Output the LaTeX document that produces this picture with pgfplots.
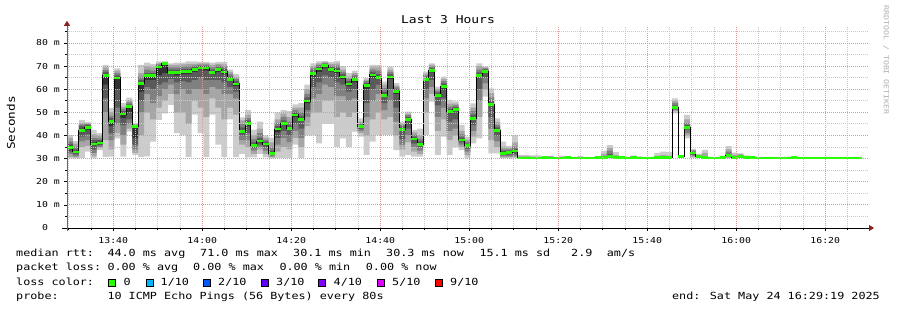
\documentclass[border=0pt]{standalone}
\usepackage{pgfplots}
\pgfplotsset{compat=1.18}
\usepackage{pgfplotstable}
\usepgfplotslibrary{fillbetween}
\usetikzlibrary{arrows.meta}
\usepackage{fontspec}
\setmainfont{DejaVu Sans Mono}[FakeStretch=1.2]
\definecolor{sA}{RGB}{204,204,204}
\definecolor{sB}{RGB}{166,166,166}
\definecolor{sC}{RGB}{128,128,128}
\definecolor{sD}{RGB}{90,90,90}
\definecolor{sE}{RGB}{50,50,50}
\definecolor{lgreen}{RGB}{38,255,0}
\definecolor{mred}{RGB}{228,150,150}
\definecolor{mgray}{RGB}{200,200,200}
\definecolor{ared}{RGB}{140,30,30}
\definecolor{wgray}{RGB}{175,175,175}
\definecolor{c1}{RGB}{0,184,255}
\definecolor{c2}{RGB}{0,89,255}
\definecolor{c3}{RGB}{94,0,255}
\definecolor{c4}{RGB}{126,0,255}
\definecolor{c5}{RGB}{221,0,255}
\definecolor{c9}{RGB}{255,0,0}
\newcommand\lfont{\fontsize{9.8}{11}\selectfont}

\pgfplotstableread{
x med a b c d e f g h i j
0 34.9 30.1 30.8 32 33 34 35.5 36.5 37.5 39 40.2
1 32.9 30.0 30.5 31 31.8 32.5 33.3 34 35 36.5 37.6
2 42.2 30.2 35 37.5 39.5 41.5 43 44 44.8 45.5 46.7
3 43.4 33 35.5 38 40.5 42.5 44 44.6 45 45.4 45.8
4 36.3 30.1 31 32.5 34 35.8 36.8 38 39 40.5 42.4
5 36.8 33.7 34.5 35 35.8 36.4 37.2 38 38.8 39.8 41
6 66.0 30.8 38 50 56 62 66.5 67.5 68.3 69.5 70.5
7 46.1 30.9 34 38 41 44 46.5 47.5 48.5 50 51.8
8 64.9 38.8 41 45 52 60 65.3 66 67 68 69
9 49.3 30.9 36 40 44.5 47.5 49.6 50.5 51.5 52.5 54
10 52.5 41.7 43 45 47 50 52.8 53.5 54.3 55.3 56.4
11 43.8 31.6 32.5 34 36 39 44 44.2 44.5 44.9 45.3
12 62.4 30.8 40 50 55 59 63 64 65.5 67 70.5
13 65.9 31 50 58 61 64 66.3 67 68.5 70 71.5
14 65.9 37.4 47 54 60 64 66.3 67 68 69.5 71
15 69.6 46.7 52 57 62 66 69.8 70.3 70.8 71.3 72
16 71.1 49.6 55 60 63 67 71.2 71.4 71.6 71.8 72
17 67.2 53.2 58 62 64.5 66.5 67.4 68.5 69.5 70.5 71.2
18 67.2 41 50 58 63 66 67.4 68.5 69.5 70.5 71.5
19 67.6 40.2 50 60 63.5 66.5 67.8 68.8 69.8 70.8 71.5
20 67.6 30.8 45 58 63 66.5 67.8 68.8 70 71 72
21 68.6 49 55 60 64 67.5 68.8 69.6 70.3 71 72
22 69.2 41 52 60 65 68.5 69.4 70 70.6 71.2 71.8
23 69.2 30.8 48 58 64 68 69.4 70 70.6 71.2 71.8
24 67.2 49 56 61 64 66.5 67.4 68.5 69.5 70.5 71.5
25 68.5 36 52 60 64 67.5 68.7 69.5 70.3 71 71.8
26 67.5 30.8 47 58 63 66.5 67.7 68.7 69.8 70.8 71.8
27 64.3 47 52 58 61 63.5 64.5 65.5 66.5 67.5 68.5
28 62.3 30.8 49 56 59 61.5 62.5 63.5 64.5 65.5 66.5
29 41.8 32 36 38 40 41.3 42 43.5 45 46.5 47.8
30 45.3 30.5 35 38 41 44 45.6 46.5 47.5 49 51
31 35.6 30.5 32 33.5 34.5 35.2 35.9 37 38.5 40 42.5
32 37.6 32 34 35 36 37 37.8 39 41 43 46
33 36.3 30.5 32 33.5 35 35.9 36.6 37.3 38 39 40
34 32.2 30 30.5 31 31.5 32 32.5 33.5 35 37 39
35 42.8 30.2 33 36 39 41.5 43 44 45.5 47 50
36 45.3 30.2 35 39 42 44.5 45.6 46.5 48 49.5 51
37 43.1 30.2 34 37 40 42.5 43.4 44.5 46 48 50.5
38 48.9 36 39 42 45 48 49.2 50 51 52 53.5
39 47.0 30.2 35 39 43 46.3 47.3 48.5 50 52 54
40 54.9 40 44 48 51 54 55.3 56.5 58 60 62
41 66.9 40 50 56 61 65.5 67.2 68 69 70 71.2
42 68.8 36.6 50 58 63 67.5 69 69.8 70.5 71.2 72
43 70.2 45 55 62 66 69.3 70.4 70.9 71.3 71.7 72.2
44 68.5 45 55 61 65 67.7 68.8 69.5 70.2 71 71.8
45 67.8 35 48 57 63 67 68.2 69.2 70.2 71.2 72.3
46 65.3 38.8 50 57 62 64.5 65.6 66.5 67.5 68.5 70
47 62.3 35 48 55 59 61.5 62.5 63.5 64.5 65.5 67
48 64.2 41.7 50 56 60 63 64.5 65.3 66.2 67 68
49 43.8 39.5 41 42 42.8 43.4 44 44.6 45.2 46 47.4
50 61.7 31.6 40 48 54 60 62 62.8 63.5 64 64.8
51 66.2 37.3 47 55 60 65 66.5 67.5 68.5 69.5 70.5
52 65.2 40 50 58 62 64.5 65.5 66.5 68 69.5 70.5
53 57.4 40.2 47 51 54 56.8 57.7 59 60.5 62 63.3
54 65.3 40.2 48 55 60 64.5 65.6 66.5 67.5 68.5 69.8
55 59.0 33.7 40 46 52 58 59.3 60 60.8 61.6 62.6
56 42.7 30.9 34 36 38.5 42 43 43.8 44.5 45.2 46
57 47.0 31.6 37 40 43 46.5 47.3 48 48.8 49.5 50.3
58 38.5 30.9 33 35 36.5 38 38.8 39.5 40.3 41.3 42.4
59 36.2 30.9 32 33.5 35 35.8 36.5 37.5 38.5 40 43
60 64.2 40.2 50 56 60 63.5 64.5 65.3 66 66.8 67.6
61 68.0 54.6 58 61 64 67.3 68.3 69 69.8 70.5 71.2
62 57.4 31.6 42 48 53 56.8 57.8 58.5 59.3 60.2 61.1
63 61.1 39.5 47 52 56 60.3 61.5 62.5 63.5 64.5 65.4
64 50.3 31.6 38 42 46 49.6 50.7 51.5 52.5 53.8 55.4
65 51.3 35 40 43 47 50.7 51.7 52.3 53 53.8 54.7
66 38.1 33.7 35 36 37 37.7 38.4 39.2 40.5 42 44.6
67 35.6 30.1 31.5 33 34.3 35.2 35.9 36.5 37.3 38.2 39.5
68 47.4 36.6 39.5 42 44.5 47 47.8 49 50.5 52 53.9
69 65.9 38.8 48 55 60 65.3 66.2 67.3 68.5 70 71.2
70 67.6 56.8 60 62.5 65 67.2 68 68.6 69 69.4 69.8
71 53.3 32.3 38 43 48 52.8 53.8 55 56.5 58.3 60.4
72 42.2 32.3 35 37.5 40 41.8 42.6 43.5 44.5 45.8 47.4
73 32.2 30.1 30.5 31 31.5 32 32.5 33.2 34 35.2 37.3
74 32.7 30.1 30.5 31 31.7 32.4 33 33.5 34 34.7 35.5
75 33.3 30.1 30.6 31.2 32 33 33.6 34.2 35.2 37 40.2
76 30.3 30.0 30.1 30.15 30.2 30.25 30.35 30.5 30.7 31 31.6
77 30.3 30.0 30.1 30.15 30.2 30.25 30.35 30.5 30.7 31 31.6
78 30.3 30.0 30.05 30.1 30.15 30.25 30.35 30.4 30.5 30.9 31.4
79 30.2 30.0 30.05 30.1 30.15 30.15 30.25 30.3 30.4 30.8 31.4
80 30.4 30.0 30.05 30.1 30.15 30.35 30.45 30.5 30.55 30.65 30.9
81 30.3 30.0 30.05 30.1 30.15 30.25 30.35 30.6 30.8 31.0 31.2
82 30.2 30.0 30.05 30.1 30.15 30.15 30.25 30.3 30.35 30.45 30.7
83 30.3 30.0 30.05 30.1 30.15 30.25 30.35 30.4 30.5 30.8 31.3
84 30.4 30.0 30.05 30.1 30.15 30.35 30.45 30.5 30.55 30.65 30.9
85 30.2 30.0 30.05 30.1 30.15 30.15 30.25 30.3 30.35 30.45 30.7
86 30.3 30.0 30.05 30.1 30.15 30.25 30.35 30.4 30.5 30.8 31.2
87 30.2 30.0 30.05 30.1 30.15 30.15 30.25 30.3 30.35 30.45 30.7
88 30.3 30.0 30.05 30.1 30.15 30.25 30.35 30.4 30.45 30.55 30.8
89 30.4 30.0 30.05 30.1 30.15 30.35 30.45 30.5 30.55 30.65 30.9
90 30.6 30.0 30.1 30.2 30.3 30.55 30.65 30.8 31.2 32 33.3
91 30.8 30.1 30.2 30.3 30.5 30.7 31 32 33.5 34.6 35.8
92 30.5 30.0 30.1 30.2 30.3 30.45 30.55 30.7 30.9 31.5 32.9
93 30.4 30.0 30.05 30.1 30.15 30.35 30.45 30.5 30.55 30.65 30.9
94 30.3 30.0 30.05 30.1 30.15 30.25 30.35 30.4 30.45 30.55 30.8
95 30.6 30.0 30.1 30.2 30.3 30.55 30.65 31 31.1 31.2 31.3
96 30.3 30.0 30.05 30.1 30.15 30.25 30.35 30.4 30.45 30.6 31.0
97 30.2 30.0 30.05 30.1 30.15 30.15 30.25 30.3 30.35 30.45 30.7
98 30.3 30.0 30.05 30.1 30.15 30.25 30.35 30.4 30.45 30.55 30.8
99 30.4 30.0 30.05 30.1 30.15 30.35 30.45 30.5 30.7 31.2 32.5
100 30.4 30.0 30.05 30.1 30.15 30.35 30.45 30.5 30.8 31.5 33
101 30.4 30.0 30.05 30.1 30.15 30.35 30.45 30.5 30.7 31.3 32.8
102 52.0 49.6 50.5 51 51.5 51.8 52.3 53 54 55 56.1
103 31.0 30.6 30.7 30.8 30.85 30.9 31.05 31.1 31.2 31.3 31.5
104 43.5 38.8 40 41 42.5 43.2 44 44.6 45.5 47 48.9
105 32.4 30.3 30.8 31.2 31.7 32.2 32.6 32.9 33.3 33.8 34.2
106 30.8 30.2 30.3 30.4 30.5 30.7 30.9 31.1 31.4 31.7 32.1
107 30.4 30.0 30.05 30.1 30.15 30.35 30.45 30.6 30.9 32.5 33.8
108 30.3 30.0 30.05 30.1 30.15 30.25 30.35 30.4 30.45 30.55 30.8
109 30.2 30.0 30.05 30.1 30.15 30.15 30.25 30.3 30.35 30.45 30.7
110 30.4 30.0 30.05 30.1 30.15 30.35 30.45 30.5 30.6 30.8 31.3
111 31.4 30.1 30.3 30.6 30.9 31.3 31.5 32 33 34 35.4
112 30.6 30.0 30.1 30.2 30.3 30.55 30.65 30.8 31.1 31.7 32.6
113 30.9 30.1 30.3 30.5 30.7 30.85 30.95 31.1 31.6 31.9 32.3
114 30.5 30.0 30.1 30.2 30.3 30.45 30.55 30.7 30.9 31.1 31.4
115 30.4 30.0 30.05 30.1 30.15 30.35 30.45 30.5 30.55 30.65 30.9
116 30.3 30.0 30.05 30.1 30.15 30.25 30.35 30.4 30.45 30.55 30.8
117 30.3 30.0 30.05 30.1 30.15 30.25 30.35 30.4 30.45 30.55 30.8
118 30.2 30.0 30.05 30.1 30.15 30.15 30.25 30.3 30.35 30.45 30.7
119 30.2 30.0 30.05 30.1 30.15 30.15 30.25 30.3 30.35 30.45 30.7
120 30.3 30.0 30.05 30.1 30.15 30.25 30.35 30.4 30.45 30.55 30.8
121 30.3 30.0 30.05 30.1 30.15 30.25 30.35 30.4 30.45 30.55 30.8
122 30.4 30.0 30.05 30.1 30.15 30.35 30.45 30.5 30.55 30.65 30.9
123 30.2 30.0 30.05 30.1 30.15 30.15 30.25 30.3 30.35 30.45 30.7
124 30.2 30.0 30.05 30.1 30.15 30.15 30.25 30.3 30.35 30.45 30.7
125 30.3 30.0 30.05 30.1 30.15 30.25 30.35 30.4 30.45 30.55 30.8
126 30.3 30.0 30.05 30.1 30.15 30.25 30.35 30.4 30.45 30.55 30.8
127 30.2 30.0 30.05 30.1 30.15 30.15 30.25 30.3 30.35 30.45 30.7
128 30.3 30.0 30.05 30.1 30.15 30.25 30.35 30.4 30.45 30.55 30.8
129 30.3 30.0 30.05 30.1 30.15 30.25 30.35 30.4 30.45 30.55 30.8
130 30.2 30.0 30.05 30.1 30.15 30.15 30.25 30.3 30.35 30.45 30.7
131 30.3 30.0 30.05 30.1 30.15 30.25 30.35 30.4 30.45 30.55 30.8
132 30.3 30.0 30.05 30.1 30.15 30.25 30.35 30.4 30.45 30.55 30.8
133 30.3 30.0 30.05 30.1 30.15 30.25 30.35 30.4 30.45 30.55 30.8
134 30.3 30.0 30.05 30.1 30.15 30.25 30.35 30.4 30.45 30.55 30.8
}\smoke

\begin{document}
\begin{tikzpicture}
\path (0pt,0pt) rectangle (897pt,310pt);
\begin{axis}[
  at={(67pt,82pt)}, anchor=south west,
  scale only axis, width=801pt, height=201.2pt,
  xmin=0, xmax=135, ymin=0, ymax=87,
  axis lines=left,
  axis on top,
  x axis line style={draw=black, line width=0.8pt, -{Triangle[length=5pt,width=6pt,color=ared]}, shorten >=-6pt, shorten <=-5pt},
  y axis line style={draw=black!60, line width=0.8pt, -{Triangle[length=5pt,width=6pt,color=ared]}, shorten >=-6pt, shorten <=-3pt},
  xtick={7.8,22.8,37.8,52.8,67.8,82.8,97.8,112.8,127.8},
  xticklabels={13:40,14:00,14:20,14:40,15:00,15:20,15:40,16:00,16:20},
  minor xtick={0.3,4.05,...,135},
  ytick={0,10,...,80},
  yticklabels={0\hphantom{xx},10 m,20 m,30 m,40 m,50 m,60 m,70 m,80 m},
  minor ytick={5,15,...,85},
  grid=both,
  major grid style={draw=mred, dash pattern=on 1pt off 1pt, line width=0.9pt},
  minor grid style={draw=mgray, dash pattern=on 1pt off 1pt, line width=0.9pt},
  tick align=outside,
  major tick length=3pt, minor tick length=2pt,
  tick style={black, line width=0.7pt},
  tick label style={font=\fontsize{8.2}{9}\selectfont},
  xticklabel style={anchor=base, inner sep=0pt, yshift=-13pt},
  yticklabel style={anchor=east, inner sep=0pt, xshift=-4pt},
]
\addplot[const plot, draw=none, name path=pa] table[x=x,y=a]{\smoke};
\addplot[const plot, draw=none, name path=pb] table[x=x,y=b]{\smoke};
\addplot[const plot, draw=none, name path=pc] table[x=x,y=c]{\smoke};
\addplot[const plot, draw=none, name path=pd] table[x=x,y=d]{\smoke};
\addplot[const plot, draw=none, name path=pe] table[x=x,y=e]{\smoke};
\addplot[const plot, draw=none, name path=pf] table[x=x,y=f]{\smoke};
\addplot[const plot, draw=none, name path=pg] table[x=x,y=g]{\smoke};
\addplot[const plot, draw=none, name path=ph] table[x=x,y=h]{\smoke};
\addplot[const plot, draw=none, name path=pi] table[x=x,y=i]{\smoke};
\addplot[const plot, draw=none, name path=pj] table[x=x,y=j]{\smoke};
\addplot[fill=sA, draw=none] fill between[of=pa and pj];
\addplot[fill=sB, draw=none] fill between[of=pb and pi];
\addplot[fill=sC, draw=none] fill between[of=pc and ph];
\addplot[fill=sD, draw=none] fill between[of=pd and pg];
\addplot[fill=sE, draw=none] fill between[of=pe and pf];
\addplot[const plot, black, line width=0.9pt] table[x=x,y=med]{\smoke};
\addplot[jump mark left, lgreen, line width=2.6pt] table[x=x,y=med]{\smoke};
\end{axis}
% titles and labels
\node[anchor=base, inner sep=0pt, font=\fontsize{10.8}{12}\selectfont] at (448pt,286pt) {Last 3 Hours};
\node[rotate=90, inner sep=0pt, font=\fontsize{10.6}{12}\selectfont] at (11pt,187pt) {Seconds};
\node[rotate=-90, anchor=west, inner sep=0pt, text=wgray, font=\fontsize{6.9}{8}\selectfont] at (886pt,305pt) {RRDTOOL / TOBI OETIKER};
% legend line 1
\node[anchor=base west, inner sep=0pt, font=\lfont] at (16pt,53pt) {median rtt:};
\node[anchor=base west, inner sep=0pt, font=\lfont] at (107.3pt,53pt) {44.0 ms avg};
\node[anchor=base west, inner sep=0pt, font=\lfont] at (200pt,53pt) {71.0 ms max};
\node[anchor=base west, inner sep=0pt, font=\lfont] at (293pt,53pt) {30.1 ms min};
\node[anchor=base west, inner sep=0pt, font=\lfont] at (386pt,53pt) {30.3 ms now};
\node[anchor=base west, inner sep=0pt, font=\lfont] at (479.3pt,53pt) {15.1 ms sd};
\node[anchor=base west, inner sep=0pt, font=\lfont] at (571pt,53pt) {2.9};
\node[anchor=base west, inner sep=0pt, font=\lfont] at (606.7pt,53pt) {am/s};
% legend line 2
\node[anchor=base west, inner sep=0pt, font=\lfont] at (16pt,39pt) {packet loss:};
\node[anchor=base west, inner sep=0pt, font=\lfont] at (107.3pt,39pt) {0.00 \% avg};
\node[anchor=base west, inner sep=0pt, font=\lfont] at (193pt,39pt) {0.00 \% max};
\node[anchor=base west, inner sep=0pt, font=\lfont] at (279.3pt,39pt) {0.00 \% min};
\node[anchor=base west, inner sep=0pt, font=\lfont] at (365.7pt,39pt) {0.00 \% now};
% legend line 3
\node[anchor=base west, inner sep=0pt, font=\lfont] at (16pt,24.7pt) {loss color:};
\foreach \bx/\col in {108/lgreen, 146/c1, 203/c2, 261/c3, 318/c4, 377/c5, 435/c9}{
  \filldraw[fill=\col, draw=black, line width=0.7pt] (\bx pt,23.6pt) rectangle ++(7.2pt,7.2pt);
}
\node[anchor=base west, inner sep=0pt, font=\lfont] at (123.3pt,24.7pt) {0};
\node[anchor=base west, inner sep=0pt, font=\lfont] at (160.5pt,24.7pt) {1/10};
\node[anchor=base west, inner sep=0pt, font=\lfont] at (218pt,24.7pt) {2/10};
\node[anchor=base west, inner sep=0pt, font=\lfont] at (276pt,24.7pt) {3/10};
\node[anchor=base west, inner sep=0pt, font=\lfont] at (333.5pt,24.7pt) {4/10};
\node[anchor=base west, inner sep=0pt, font=\lfont] at (392pt,24.7pt) {5/10};
\node[anchor=base west, inner sep=0pt, font=\lfont] at (450pt,24.7pt) {9/10};
% legend line 4
\node[anchor=base west, inner sep=0pt, font=\lfont] at (16pt,10.7pt) {probe:};
\node[anchor=base west, inner sep=0pt, font=\lfont] at (107.3pt,10.7pt) {10 ICMP Echo Pings (56 Bytes) every 80s};
\node[anchor=base east, inner sep=0pt, font=\lfont] at (880pt,10.7pt) {end: Sat May 24 16:29:19 2025};
\end{tikzpicture}
\end{document}
